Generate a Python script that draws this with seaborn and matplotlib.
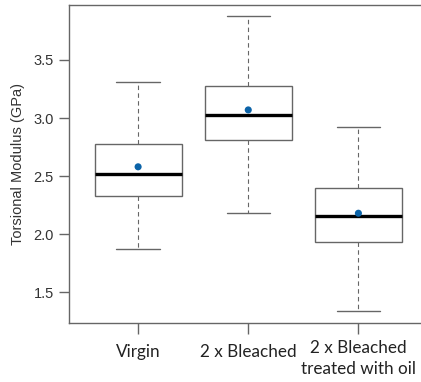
import pandas as pd
import numpy as np

import matplotlib
matplotlib.use("Agg")
import matplotlib.pyplot as plt
import seaborn as sns

# ==========================================
# DATA
# ==========================================

groups = ["Virgin", "2 x Bleached", "2 x Bleached\ntreated with oil"]

# five-number summaries: lower whisker, Q1, median, Q3, upper whisker
low = [1.87, 2.18, 1.34]
q1 = [2.33, 2.81, 1.93]
median = [2.52, 3.03, 2.16]
q3 = [2.78, 3.28, 2.40]
high = [3.31, 3.88, 2.92]

means = [2.58, 3.07, 2.18]

# ==========================================
# BUILD LONG TABLE
# ==========================================

rows = []
for i, g in enumerate(groups):
    for v in [low[i], q1[i], median[i], q3[i], high[i]]:
        rows.append({"group": g, "value": v})
df = pd.DataFrame(rows)

mean_df = pd.DataFrame({"group": groups, "value": means})

# ==========================================
# PLOT
# ==========================================

sns.set_style("ticks")
plt.rcParams["font.family"] = ["Liberation Sans", "DejaVu Sans"]

fig = plt.figure(figsize=(4.21, 3.82), dpi=100)
ax = fig.add_axes([0.164, 0.154, 0.86, 0.833])

edge = "#666666"

sns.boxplot(
    data=df,
    x="group",
    y="value",
    order=groups,
    whis=np.inf,
    width=0.79,
    color="white",
    linecolor=edge,
    linewidth=1.0,
    showfliers=False,
    medianprops={"color": "black", "linewidth": 2.4},
    whiskerprops={"linestyle": (0, (4, 3)), "linewidth": 0.8},
    capprops={"linewidth": 1.0},
    ax=ax,
)

sns.scatterplot(
    data=mean_df,
    x="group",
    y="value",
    color="#0b63a8",
    s=26,
    edgecolor="none",
    zorder=5,
    ax=ax,
)

ax.set_xlim(-0.627, 2.66)
ax.set_ylim(1.233, 3.974)
ax.set_yticks([1.5, 2.0, 2.5, 3.0, 3.5])
ax.set_yticklabels(["1.5", "2.0", "2.5", "3.0", "3.5"], fontsize=10.5, color="#333333")

# category labels (two-line label sits a little lower, like the reference)
ax.set_xticks([0, 1, 2])
ax.set_xticklabels([])
label_y = [-0.091, -0.091, -0.11]
for i, g in enumerate(groups):
    ax.text(i, label_y[i], g, transform=ax.get_xaxis_transform(),
            ha="center", va="center", fontsize=12.3, color="#222222",
            family=["Lato", "DejaVu Sans"], linespacing=1.4)

ax.set_xlabel("")
ax.set_ylabel("Torsional Modulus (GPa)", fontsize=10.5, color="#333333")
ax.yaxis.set_label_coords(-0.122, 0.5)

for s in ["left", "bottom", "top", "right"]:
    ax.spines[s].set_color(edge)
    ax.spines[s].set_linewidth(1.0)

ax.tick_params(axis="y", length=7, color=edge, width=1.0, pad=4)
ax.tick_params(axis="x", length=8, color=edge, width=1.0)

fig.savefig("out.png", dpi=100)
